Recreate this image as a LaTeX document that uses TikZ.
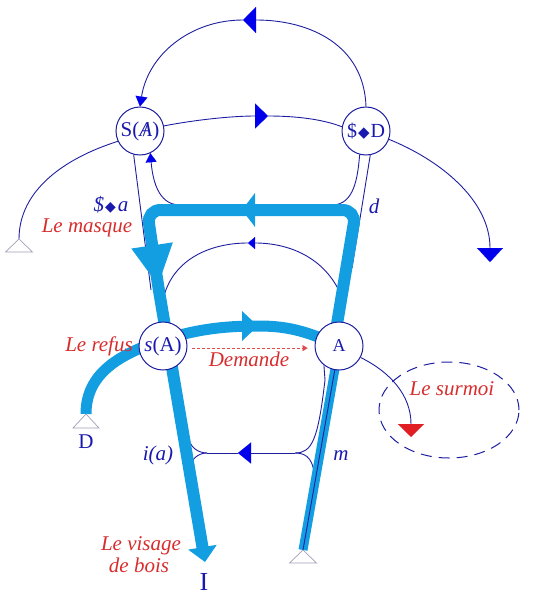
\documentclass[tikz,border=0pt]{standalone}
\usepackage{fontspec}
\setmainfont{Liberation Serif}
\newfontfamily\symf{DejaVu Sans}
\usetikzlibrary{arrows.meta,backgrounds,shapes.geometric}
\newcommand\fsz[1]{\fontsize{#1}{#1}\selectfont}
\definecolor{navy}{RGB}{30,30,160}
\definecolor{arrblue}{RGB}{0,0,235}
\definecolor{cyanc}{RGB}{20,158,226}
\definecolor{redc}{RGB}{215,45,45}
\definecolor{redtri}{RGB}{225,30,35}
\definecolor{grayc}{RGB}{160,160,185}
\definecolor{txtblue}{RGB}{25,25,175}
\tikzset{
  thinln/.style={draw=navy,line width=0.9pt},
  cyanln/.style={draw=cyanc,line width=12pt},
  cyanhead/.style={fill=cyanc},
  circ/.style={circle,draw=navy,line width=1pt,fill=white,minimum size=48pt,inner sep=0pt,text=txtblue},
  redlab/.style={text=redc,font=\fsz{21}\itshape,inner sep=0pt,anchor=base},
  bluelab/.style={text=txtblue,font=\fsz{21}\itshape,inner sep=0pt,anchor=base},
  opentri/.style={draw=grayc,line width=0.7pt,fill=white},
  btri/.style 2 args={-{Triangle[length=#1,width=#2,line width=0.1pt,color=arrblue]}},
  rtri/.style 2 args={-{Triangle[length=#1,width=#2,line width=0.1pt,color=redtri]}}
}
\begin{document}
\begin{tikzpicture}[x=1pt,y=1pt]
\useasboundingbox (0,0) rectangle (544,-599);
% circle nodes
\node[circ,font=\fsz{21}] (SA) at (140,-131) {S(\textit{A}\llap{/\kern3.5pt})};
\node[circ,font=\fsz{20}] (SD) at (366,-131) {\$\kern1pt{\symf\fsz{15}◆}\kern1pt D};
\node[circ,font=\fsz{21}] (sA) at (163,-346) {\textit{s}(A)};
\node[circ,font=\fsz{18}] (A) at (339,-346) {A};
\node[draw=navy,line width=1pt,dash pattern=on 11pt off 7pt,ellipse,minimum width=140pt,minimum height=96pt,inner sep=0pt] (surm) at (449,-410) {};
% coordinates
\coordinate (pk1) at (243,-20);
\coordinate (pk2) at (268,-116);
\coordinate (tL) at (19,-239);
\coordinate (dSD) at (490,-262);
\coordinate (eSA) at (151,-290);
\coordinate (eSD) at (352,-268);
\coordinate (bL) at (180,-205);
\coordinate (bR) at (332,-205);
\coordinate (arcR) at (343,-300);
\coordinate (pk3) at (248,-243);
\coordinate (arcL) at (163,-300);
\coordinate (jR) at (295,-453);
\coordinate (pk4) at (238,-453);
\coordinate (jL) at (207,-453);
\coordinate (fLu) at (189,-437);
\coordinate (fLd) at (191,-467);
\coordinate (kR) at (325,-380);
\coordinate (fRd) at (315,-482);
\coordinate (sm) at (411,-437);
\coordinate (tB) at (303,-550);
\coordinate (tD) at (86,-414);
\coordinate (cA) at (336,-330);
\coordinate (cR) at (356,-210);
\coordinate (pk5) at (242,-210);
\coordinate (cL) at (147,-210);
\coordinate (pk6) at (158,-285);
\coordinate (Itip) at (205,-562);
\coordinate (pk7) at (258,-326);
\coordinate (mid) at (163,-340);
\begin{pgfonlayer}{background}
% thin lines
\draw[thinln,btri={13pt}{26pt}] (SD.north) .. controls (364,-45) and (310,-20) .. (pk1);
\draw[thinln,btri={10pt}{12pt}] (pk1) .. controls (190,-20) and (148,-55) .. (SA.north);
\draw[thinln,btri={13pt}{25pt}] (SA.12) .. controls (200,-119) and (235,-116) .. (pk2);
\draw[thinln] (pk2) .. controls (295,-116) and (322,-119) .. (SD.170);
\draw[thinln] (SA.205) .. controls (65,-158) and (19,-190) .. (tL);
\draw[thinln,btri={14pt}{26pt}] (SD.-20) .. controls (440,-160) and (490,-200) .. (dSD);
\draw[thinln] (SA.-105) -- (eSA);
\draw[thinln] (SD.-80) -- (eSD);
\draw[thinln,btri={9pt}{11pt}] (bL) to[out=180,in=-85] (SA.-65);
\draw[thinln] (bR) to[out=0,in=-95] (SD.-105);
\draw[thinln,btri={7pt}{12pt}] (arcR) to[out=110,in=0] (pk3);
\draw[thinln] (pk3) to[out=180,in=78] (arcL);
\draw[thinln,btri={13pt}{21pt}] (jR) -- (pk4);
\draw[thinln] (pk4) -- (jL);
\draw[thinln] (jL) to[out=180,in=-90] (fLu);
\draw[thinln] (jL) to[out=180,in=90] (fLd);
\draw[thinln] (A.-128) -- (kR) .. controls (318,-440) and (312,-453) .. (jR);
\draw[thinln] (jR) .. controls (308,-453) and (314,-460) .. (fRd);
\draw[thinln,rtri={13pt}{26pt}] (A.-28) .. controls (390,-372) and (411,-395) .. (sm);
\draw[draw=redc!85!white,line width=0.8pt,dash pattern=on 3pt off 2pt,shorten <=5pt,shorten >=7pt,-{Triangle[length=5pt,width=6pt,line width=0.1pt]}] (sA.-5) -- (A.185);
% cyan paths
\draw[cyanln,line width=9pt] (tB) -- (A.center);
\draw[cyanln,rounded corners=13.5pt,shorten >=13pt] (cA) -- (cR) -- (pk5) -- (cL) -- (pk6) -- (Itip);
\draw[cyanln,line width=11pt] (tD) .. controls (86,-378) and (112,-356) .. (mid) .. controls (200,-328) and (230,-326) .. (pk7) .. controls (285,-326) and (305,-330) .. (A.center);
% cyan arrowheads
\fill[cyanhead,shift={(pk5)},rotate=180] (0,0) -- (-13,17) -- (-13,-17) -- cycle;
\fill[cyanhead,shift={(pk6)},rotate=-81.5] (0,0) -- (-40,21) -- (-40,-21) -- cycle;
\fill[cyanhead,shift={(Itip)},rotate=-80.4] (0,0) -- (-15,14.5) -- (-15,-14.5) -- cycle;
\fill[cyanhead,shift={(pk7)}] (0,0) -- (-16,15) -- (-16,-15) -- cycle;
\draw[thinln] (A.-100) -- (tB);
\end{pgfonlayer}
% open triangles
\draw[opentri] (tL) -- ++(-13.5,-13) -- ++(27,0) -- cycle;
\draw[opentri] (tD) -- ++(-13,-14) -- ++(26,0) -- cycle;
\draw[opentri] (tB) -- ++(-13.5,-13) -- ++(27,0) -- cycle;
% labels
\node[bluelab] (lSa) at (111,-211) {\$\kern1pt{\symf\fsz{14}◆}\kern2pt a};
\node[redlab] (lmask) at (87,-232) {Le masque};
\node[bluelab] (ld) at (374,-213) {d};
\node[redlab] (lref) at (99,-351) {Le refus};
\node[redlab] (ldem) at (249,-366) {Demande};
\node[redlab] (lsur) at (452,-395) {Le surmoi};
\node[bluelab] (lia) at (158,-460) {i(a)};
\node[bluelab] (lm) at (341,-460) {m};
\node[redlab] (lvis1) at (141,-550) {Le visage};
\node[redlab] (lvis2) at (139,-572) {de bois};
\node[text=txtblue,font=\fsz{26},inner sep=0pt,anchor=base] (lI) at (204,-590) {I};
\node[text=txtblue,font=\fsz{21},inner sep=0pt,anchor=base] (lD) at (86,-448) {D};
\end{tikzpicture}
\end{document}
